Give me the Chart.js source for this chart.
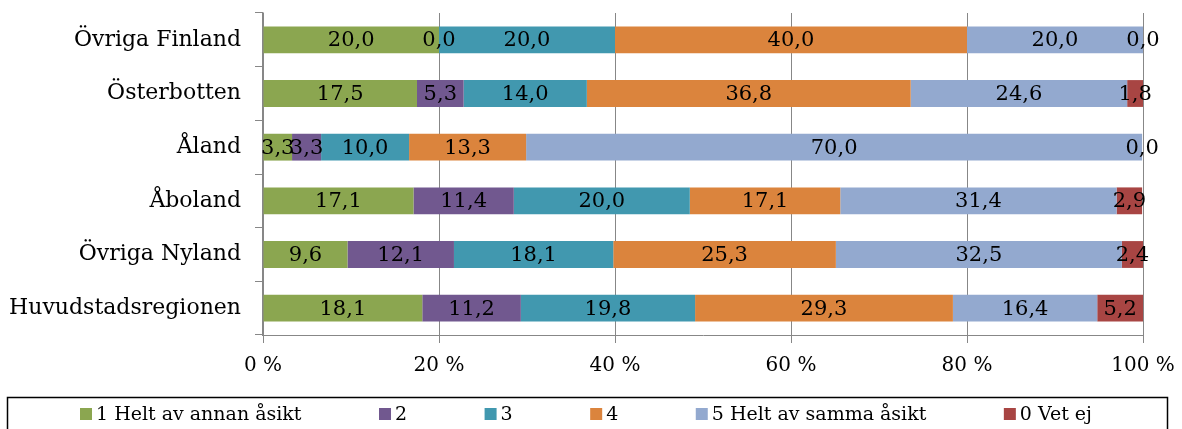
<!DOCTYPE html>
<html>
<head>
<meta charset="utf-8">
<script src="https://cdn.jsdelivr.net/npm/chart.js@4/dist/chart.umd.min.js"></script>
<style>
  html, body { margin: 0; padding: 0; background: #fff; }
  #wrap { width: 1182px; height: 429px; position: relative; }
</style>
</head>
<body>
<div id="wrap"><canvas id="chart"></canvas></div>
<script>
// Regioner (uppifrån och ned)
const regioner = ['Övriga Finland', 'Österbotten', 'Åland', 'Åboland', 'Övriga Nyland', 'Huvudstadsregionen'];

// Svarsalternativ och procentandelar per region
const svar1 = [20.0, 17.5, 3.3, 17.1, 9.6, 18.1];
const svar2 = [0.0, 5.3, 3.3, 11.4, 12.1, 11.2];
const svar3 = [20.0, 14.0, 10.0, 20.0, 18.1, 19.8];
const svar4 = [40.0, 36.8, 13.3, 17.1, 25.3, 29.3];
const svar5 = [20.0, 24.6, 70.0, 31.4, 32.5, 16.4];
const vetEj = [0.0, 1.8, 0.0, 2.9, 2.4, 5.2];

const serieNamn = ['1 Helt av annan åsikt', '2', '3', '4', '5 Helt av samma åsikt', '0 Vet ej'];
const xTicks = [0, 20, 40, 60, 80, 100];

const FONT = "'DejaVu Serif', serif";
const grid = '#878787';
const farger = ['#8BA650', '#71588F', '#4198AF', '#DB843D', '#93A9CF', '#A84543'];

const datasets = [svar1, svar2, svar3, svar4, svar5, vetEj].map((d, i) => ({
  label: serieNamn[i],
  data: d,
  backgroundColor: farger[i],
  borderWidth: 0,
  barPercentage: 0.5,
  categoryPercentage: 1.0
}));

// Värdeetiketter mitt i varje segment
const etiketter = {
  id: 'etiketter',
  afterDatasetsDraw(chart) {
    const ctx = chart.ctx;
    ctx.save();
    ctx.font = '21px ' + FONT;
    ctx.fillStyle = '#000';
    ctx.textAlign = 'center';
    ctx.textBaseline = 'middle';
    chart.data.datasets.forEach((ds, i) => {
      chart.getDatasetMeta(i).data.forEach((bar, j) => {
        const txt = ds.data[j].toFixed(1).replace('.', ',');
        ctx.fillText(txt, (bar.x + bar.base) / 2, bar.y + 1);
      });
    });
    ctx.restore();
  }
};

// Förklaring i ruta under diagrammet
const forklaring = {
  id: 'forklaring',
  afterDraw(chart) {
    const ctx = chart.ctx;
    ctx.save();
    ctx.strokeStyle = '#000';
    ctx.lineWidth = 1.5;
    ctx.strokeRect(7.5, 397.5, 1160, 40);
    ctx.font = '19px ' + FONT;
    ctx.textBaseline = 'middle';
    const box = 12, gap = 4;
    const widths = chart.data.datasets.map(ds => box + gap + ctx.measureText(ds.label).width);
    const start = 80, end = 1092;
    const space = (end - start - widths.reduce((a, b) => a + b, 0)) / (widths.length - 1);
    let x = start;
    const y = 414;
    chart.data.datasets.forEach((ds, i) => {
      ctx.fillStyle = ds.backgroundColor;
      ctx.fillRect(x, y - box / 2, box, box);
      ctx.fillStyle = '#000';
      ctx.fillText(ds.label, x + box + gap, y + 1);
      x += widths[i] + space;
    });
    ctx.restore();
  }
};

new Chart(document.getElementById('chart'), {
  type: 'bar',
  data: { labels: regioner, datasets },
  options: {
    indexAxis: 'y',
    responsive: true,
    maintainAspectRatio: false,
    animation: false,
    layout: { padding: { top: 13, bottom: 40, right: 39, left: 0 } },
    plugins: {
      legend: { display: false },
      tooltip: { enabled: false }
    },
    scales: {
      x: {
        stacked: true,
        min: 0,
        max: 100,
        afterBuildTicks: (s) => { s.ticks = xTicks.map(v => ({ value: v })); },
        afterFit: (s) => { s.paddingLeft = 0; s.paddingRight = 0; },
        ticks: {
          callback: (v) => v + ' %',
          color: '#000',
          font: { family: FONT, size: 20 },
          padding: 11,
          maxRotation: 0
        },
        grid: { color: grid, tickLength: 8, lineWidth: 1 },
        border: { color: grid, width: 1 }
      },
      y: {
        stacked: true,
        afterFit: (s) => { s.width = 263; s.paddingTop = 0; s.paddingBottom = 0; },
        ticks: {
          color: '#000',
          font: { family: FONT, size: 22 },
          padding: 14
        },
        grid: { drawOnChartArea: false, color: grid, tickLength: 8 },
        border: { color: grid, width: 1.5 }
      }
    }
  },
  plugins: [etiketter, forklaring]
});
</script>
</body>
</html>
